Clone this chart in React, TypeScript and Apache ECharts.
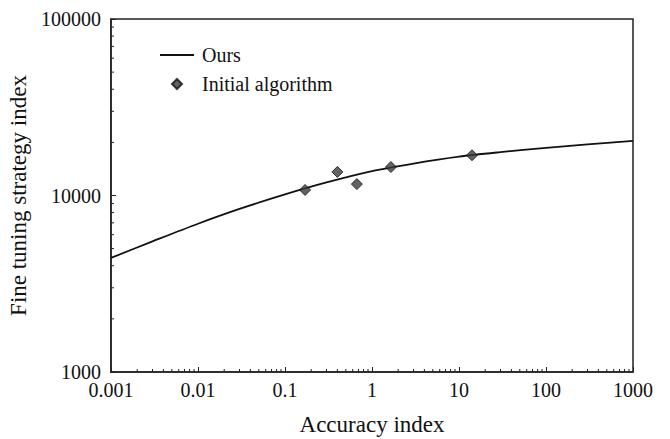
import React, { useEffect, useRef } from "react";
import * as echarts from "echarts";

// Axis ranges and tick labels
const xTickValues = [0.001, 0.01, 0.1, 1, 10, 100, 1000];
const yTickValues = [1000, 10000, 100000];

// "Ours" fitted curve
const oursX = [0.001, 0.003, 0.01, 0.03, 0.1, 0.3, 1, 3, 10, 30, 100, 300, 1000];
const oursY = [4430, 5495, 6920, 8395, 10140, 11850, 13740, 15170, 16600, 17610, 18620, 19480, 20370];

// "Initial algorithm" points
const initX = [0.17, 0.4, 0.67, 1.65, 14.1];
const initY = [10750, 13600, 11600, 14500, 16900];

// Minor tick multipliers within each decade
const minorMult = [2, 3, 4, 5, 6, 7, 8, 9];

const X_MIN = xTickValues[0], X_MAX = xTickValues[xTickValues.length - 1];
const Y_MIN = yTickValues[0], Y_MAX = yTickValues[yTickValues.length - 1];

function minorTicks(lo: number, hi: number): number[] {
  const out: number[] = [];
  for (let d = lo; d < hi * 0.99; d *= 10) {
    for (const m of minorMult) out.push(Number((d * m).toPrecision(3)));
  }
  return out;
}

const fmt = (v: number) => String(Number(v.toPrecision(1)));

const FONT = "'Liberation Serif', 'DejaVu Serif', serif";

export default function App() {
  const ref = useRef<HTMLDivElement>(null);
  useEffect(() => {
    if (!ref.current) return;
    const chart = echarts.init(ref.current, undefined, { renderer: "svg" });
    const xMinor = minorTicks(X_MIN, X_MAX).map((v) => [v, Y_MIN]);
    const yMinor = minorTicks(Y_MIN, Y_MAX).map((v) => [X_MIN, v]);
    chart.setOption({
      animation: false,
      backgroundColor: "#fff",
      textStyle: { fontFamily: FONT, color: "#111" },
      grid: {
        left: 111,
        right: 37,
        top: 19,
        bottom: 67,
        show: true,
        borderColor: "#222",
        borderWidth: 1.5,
        outerBoundsMode: "none",
      },
      legend: {
        orient: "vertical",
        left: 154,
        top: 40,
        itemWidth: 34,
        itemHeight: 10,
        itemGap: 9,
        symbolKeepAspect: true,
        textStyle: { fontFamily: FONT, fontSize: 20, color: "#111", padding: [0, 0, 0, 3] },
        data: [
          { name: "Ours", itemStyle: { opacity: 0 } },
          { name: "Initial algorithm", icon: "path://M4,0 L8,4 L4,8 L0,4 Z" },
        ],
      },
      xAxis: {
        type: "log",
        logBase: 10,
        min: X_MIN,
        max: X_MAX,
        interval: 1,
        name: "Accuracy index",
        nameLocation: "middle",
        nameGap: 41,
        nameTextStyle: { fontFamily: FONT, fontSize: 23, color: "#111" },
        axisLine: { show: true, lineStyle: { color: "#222", width: 1.5 } },
        axisTick: { show: true, inside: true, length: 5, lineStyle: { color: "#222", width: 1 } },
        axisLabel: {
          fontFamily: FONT,
          fontSize: 20,
          color: "#111",
          margin: 8,
          formatter: (v: number) => fmt(v),
        },
        splitLine: { show: false },
        minorTick: { show: false },
      },
      yAxis: {
        type: "log",
        logBase: 10,
        min: Y_MIN,
        max: Y_MAX,
        interval: 1,
        name: "Fine tuning strategy index",
        nameLocation: "middle",
        nameGap: 70,
        nameTextStyle: { fontFamily: FONT, fontSize: 23, color: "#111" },
        axisLine: { show: true, lineStyle: { color: "#222", width: 1.5 } },
        axisTick: { show: true, inside: true, length: 5, lineStyle: { color: "#222", width: 1 } },
        axisLabel: {
          fontFamily: FONT,
          fontSize: 20,
          color: "#111",
          margin: 10,
          formatter: (v: number) => fmt(v),
        },
        splitLine: { show: false },
      },
      series: [
        {
          name: "Ours",
          type: "line",
          data: oursX.map((x, i) => [x, oursY[i]]),
          smooth: 0.3,
          symbol: "none",
          lineStyle: { color: "#111", width: 1.8 },
          itemStyle: { color: "#111" },
          z: 3,
        },
        {
          name: "Initial algorithm",
          type: "scatter",
          data: initX.map((x, i) => [x, initY[i]]),
          symbol: "diamond",
          symbolSize: 11,
          itemStyle: { color: "#3c3c3c", borderColor: "#111", borderWidth: 1 },
          z: 4,
        },
        {
          type: "custom",
          data: xMinor,
          silent: true,
          clip: false,
          renderItem: (_p: any, api: any) => {
            const pt = api.coord([api.value(0), api.value(1)]);
            return {
              type: "line",
              shape: { x1: pt[0], y1: pt[1], x2: pt[0], y2: pt[1] - 3 },
              style: { stroke: "#222", lineWidth: 1 },
            };
          },
          z: 5,
        },
        {
          type: "custom",
          data: yMinor,
          silent: true,
          clip: false,
          renderItem: (_p: any, api: any) => {
            const pt = api.coord([api.value(0), api.value(1)]);
            return {
              type: "line",
              shape: { x1: pt[0], y1: pt[1], x2: pt[0] + 3, y2: pt[1] },
              style: { stroke: "#222", lineWidth: 1 },
            };
          },
          z: 5,
        },
      ],
    });
    return () => chart.dispose();
  }, []);
  return (
    <div
      ref={ref}
      style={{ position: "fixed", left: 0, top: 0, width: 670, height: 439, background: "#fff" }}
    />
  );
}
